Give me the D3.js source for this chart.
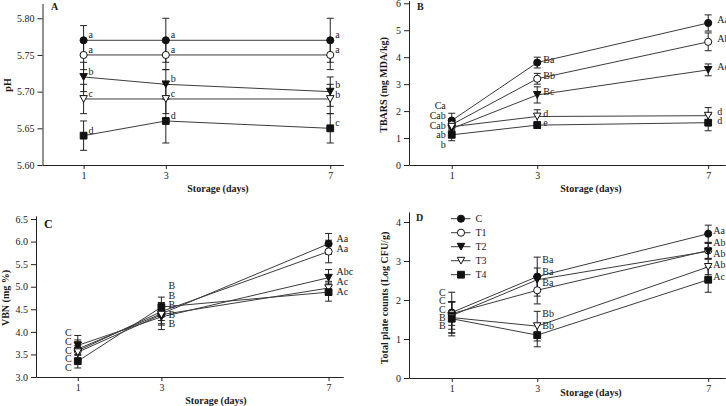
<!DOCTYPE html>
<html>
<head>
<meta charset="utf-8">
<script src="https://cdn.jsdelivr.net/npm/d3@7"></script>
<style>
  html, body { margin: 0; padding: 0; background: #fff; }
  svg { display: block; }
  text { font-family: "Liberation Serif", "Times New Roman", serif; fill: #1a1a1a; }
</style>
</head>
<body>
<svg id="chart" width="726" height="406"></svg>
<script>
// ---------- DATA ----------
const days = [1, 3, 7];
const seriesNames = ["C", "T1", "T2", "T3", "T4"];

// Panel A: pH
const phMean = [[5.77, 5.77, 5.77], [5.75, 5.75, 5.75], [5.72, 5.71, 5.70], [5.69, 5.69, 5.69], [5.64, 5.66, 5.65]];
const phSD = [[0.02, 0.03, 0.03], [0.02, 0.02, 0.02], [0.02, 0.02, 0.02], [0.02, 0.02, 0.02], [0.02, 0.03, 0.02]];
const phLetters = [["a", "a", "a"], ["a", "a", "a"], ["b", "b", "b"], ["c", "c", "b"], ["d", "d", "c"]];
const phTicks = [5.60, 5.65, 5.70, 5.75, 5.80];

// Panel B: TBARS
const tbarsMean = [[1.65, 3.80, 5.27], [1.50, 3.20, 4.57], [1.35, 2.60, 3.53], [1.42, 1.80, 1.83], [1.12, 1.48, 1.57]];
const tbarsSD = [[0.27, 0.20, 0.30], [0.20, 0.20, 0.33], [0.15, 0.30, 0.22], [0.15, 0.25, 0.30], [0.22, 0.12, 0.30]];
const tbarsLetters = [["Ca", "Ba", "Aa"], ["Cab", "Bb", "Ab"], ["Cab", "Bc", "Ac"], ["ab", "d", "d"], ["b", "e", "d"]];
const tbarsTicks = [0, 1, 2, 3, 4, 5, 6];

// Panel C: VBN
const vbnMean = [[3.62, 4.40, 5.95], [3.58, 4.45, 5.78], [3.70, 4.33, 5.20], [3.55, 4.38, 4.97], [3.35, 4.55, 4.88]];
const vbnSD = [[0.20, 0.25, 0.23], [0.20, 0.20, 0.25], [0.22, 0.28, 0.18], [0.15, 0.20, 0.15], [0.15, 0.22, 0.20]];
const vbnLetters = [["C", "B", "Aa"], ["C", "B", "Aa"], ["C", "B", "Abc"], ["C", "B", "Ac"], ["C", "B", "Ac"]];
const vbnTicks = [3.0, 3.5, 4.0, 4.5, 5.0, 5.5, 6.0, 6.5];

// Panel D: Total plate counts
const tpcMean = [[1.68, 2.60, 3.70], [1.65, 2.25, 3.27], [1.60, 2.52, 3.25], [1.55, 1.33, 2.85], [1.52, 1.10, 2.52]];
const tpcSD = [[0.52, 0.50, 0.22], [0.30, 0.35, 0.20], [0.35, 0.30, 0.20], [0.40, 0.38, 0.20], [0.44, 0.30, 0.32]];
const tpcLetters = [["C", "Ba", "Aa"], ["C", "Ba", "Ab"], ["C", "Ba", "Ab"], ["B", "Bb", "Ab"], ["B", "Bb", "Ac"]];
const tpcTicks = [0, 1, 2, 3, 4];

// ---------- LAYOUT ----------
const svg = d3.select("#chart");
const symbolFor = {
  C:  { type: d3.symbolCircle,   fill: "#111", size: 40 },
  T1: { type: d3.symbolCircle,   fill: "#fff", size: 40 },
  T2: { type: "tri",             fill: "#111", size: 7.5 },
  T3: { type: "tri",             fill: "#fff", size: 7.5 },
  T4: { type: d3.symbolSquare,   fill: "#111", size: 46 }
};
function drawMarker(g, name, cx, cy) {
  const s = symbolFor[name];
  if (s.type === "tri") {
    const w = s.size, h = s.size * 0.9;
    g.append("path")
      .attr("d", `M${cx - w / 2},${cy - h / 2}L${cx + w / 2},${cy - h / 2}L${cx},${cy + h / 2}Z`)
      .attr("fill", s.fill).attr("stroke", "#111").attr("stroke-width", 1);
  } else {
    g.append("path")
      .attr("d", d3.symbol().type(s.type).size(s.size)())
      .attr("transform", `translate(${cx},${cy})`)
      .attr("fill", s.fill).attr("stroke", "#111").attr("stroke-width", 1);
  }
}

// place labels along y with ordered minimum gap (pool-adjacent-violators)
function layoutLabels(desired, gap) {
  const n = desired.length;
  const z = desired.map((d, i) => d - i * gap);
  let blocks = [];
  z.forEach((v, i) => {
    blocks.push({ sum: v, n: 1, start: i });
    while (blocks.length > 1) {
      const b = blocks[blocks.length - 1], a = blocks[blocks.length - 2];
      if (a.sum / a.n > b.sum / b.n) {
        blocks.pop();
        a.sum += b.sum; a.n += b.n;
      } else break;
    }
  });
  const out = new Array(n);
  blocks.forEach(b => {
    const m = b.sum / b.n;
    for (let k = 0; k < b.n; k++) out[b.start + k] = m + (b.start + k) * gap;
  });
  return out;
}

const panels = [
  {
    id: "A", mean: phMean, sd: phSD, letters: phLetters, ticks: phTicks, fmt: ".2f",
    xDomain: [0, 7.32], xRange: [42.5, 343.4],
    yDomain: [5.60, 5.82], yRange: [165, 3.6],
    yTitle: "pH", yTitleX: 7, yTitleY: 85,
    xTitleX: 218, xTitleY: 188,
    letterX: 51, letterY: 10, letterSize: 10,
    lab: [
      { side: "right", dx: 5, dy: -5.5, gap: 10 },
      { side: "right", dx: 5, dy: -5.5, gap: 10 },
      { side: "right", dx: 5, dy: -5.5, gap: 10 }
    ]
  },
  {
    id: "B", mean: tbarsMean, sd: tbarsSD, letters: tbarsLetters, ticks: tbarsTicks, fmt: "d",
    xDomain: [0, 7.4], xRange: [409, 725.3],
    yDomain: [0, 6.1], yRange: [165, 0.6],
    yTitle: "TBARS (mg MDA/kg)", yTitleX: 383, yTitleY: 85,
    xTitleX: 591, xTitleY: 188,
    letterX: 417, letterY: 10, letterSize: 10,
    lab: [
      { side: "left", dx: -6, dy: -2, gap: 9.8 },
      { side: "right", dx: 6, dy: -3, gap: 9 },
      { side: "right", dx: 9, dy: -3, gap: 9 }
    ]
  },
  {
    id: "C", mean: vbnMean, sd: vbnSD, letters: vbnLetters, ticks: vbnTicks, fmt: ".1f",
    xDomain: [0, 7.35], xRange: [36, 343.2],
    yDomain: [3.0, 6.57], yRange: [377, 215.85],
    yTitle: "VBN (mg %)", yTitleX: 5, yTitleY: 298,
    xTitleX: 216, xTitleY: 400,
    letterX: 44, letterY: 228, letterSize: 12,
    lab: [
      { side: "left", dx: -6, dy: -1.7, gap: 8.7 },
      { side: "right", dx: 7, dy: -8, gap: 9.5 },
      { side: "right", dx: 8, dy: -4, gap: 10 }
    ]
  },
  {
    id: "D", mean: tpcMean, sd: tpcSD, letters: tpcLetters, ticks: tpcTicks, fmt: "d",
    xDomain: [0, 7.4], xRange: [409, 725.3],
    yDomain: [0, 4.26], yRange: [378, 211.9],
    yTitle: "Total plate counts (Log CFU/g)", yTitleX: 384, yTitleY: 298,
    xTitleX: 591, xTitleY: 392,
    letterX: 416, letterY: 221, letterSize: 10,
    lab: [
      { side: "left", dx: -6, dy: -6.6, gap: 8.2 },
      { side: "right", dx: 5, dy: -11, gap: 11.5 },
      { side: "right", dx: 5, dy: -3, gap: 11 }
    ],
    legend: true
  }
];

panels.forEach(p => {
  const g = svg.append("g");
  const x = d3.scaleLinear().domain(p.xDomain).range(p.xRange);
  const y = d3.scaleLinear().domain(p.yDomain).range(p.yRange);

  // axes
  const gx = g.append("g")
    .attr("transform", `translate(0,${p.yRange[0]})`)
    .call(d3.axisBottom(x).tickValues(days).tickSize(4).tickSizeOuter(0).tickPadding(3).tickFormat(d3.format("d")));
  const gy = g.append("g")
    .attr("transform", `translate(${p.xRange[0]},0)`)
    .call(d3.axisLeft(y).tickValues(p.ticks).tickSize(5).tickSizeOuter(0).tickPadding(3).tickFormat(d3.format(p.fmt)));
  [gx, gy].forEach(a => {
    a.selectAll("path.domain").attr("stroke", "#222").attr("stroke-width", 1);
    a.selectAll(".tick line").attr("stroke", "#222");
    a.selectAll(".tick text").attr("font-family", "Liberation Serif, serif").attr("font-size", 10).attr("fill", "#222");
  });

  // titles
  g.append("text").attr("x", p.xTitleX).attr("y", p.xTitleY).attr("dy", "0.35em")
    .attr("text-anchor", "middle").attr("font-size", 10).attr("font-weight", "bold").text("Storage (days)");
  g.append("text").attr("transform", `translate(${p.yTitleX},${p.yTitleY}) rotate(-90)`)
    .attr("dy", "0.35em").attr("text-anchor", "middle").attr("font-size", 10).attr("font-weight", "bold").text(p.yTitle);
  g.append("text").attr("x", p.letterX).attr("y", p.letterY)
    .attr("font-size", p.letterSize).attr("font-weight", "bold").text(p.id);

  // lines
  const line = d3.line().x((d, i) => x(days[i])).y(d => y(d));
  p.mean.forEach(vals => {
    g.append("path").attr("d", line(vals)).attr("fill", "none").attr("stroke", "#3c3c3c").attr("stroke-width", 1);
  });

  // error bars
  p.mean.forEach((vals, s) => {
    vals.forEach((v, i) => {
      const cx = x(days[i]), sd = p.sd[s][i];
      const y1 = y(v - sd), y2 = y(v + sd);
      g.append("line").attr("x1", cx).attr("x2", cx).attr("y1", y1).attr("y2", y2).attr("stroke", "#222");
      [y1, y2].forEach(yy => g.append("line").attr("x1", cx - 3.5).attr("x2", cx + 3.5).attr("y1", yy).attr("y2", yy).attr("stroke", "#222"));
    });
  });

  // markers
  p.mean.forEach((vals, s) => {
    vals.forEach((v, i) => drawMarker(g, seriesNames[s], x(days[i]), y(v)));
  });

  // significance letters
  days.forEach((d, i) => {
    const L = p.lab[i];
    const desired = p.mean.map(vals => y(vals[i]) + L.dy);
    const ys = layoutLabels(desired, L.gap);
    p.letters.forEach((row, s) => {
      g.append("text")
        .attr("x", x(d) + L.dx).attr("y", ys[s]).attr("dy", "0.35em")
        .attr("text-anchor", L.side === "left" ? "end" : "start")
        .attr("font-size", 10).attr("fill", "#222")
        .text(row[i]);
    });
  });

  // legend
  if (p.legend) {
    const lg = g.append("g");
    seriesNames.forEach((name, k) => {
      const ly = 218.7 + k * 14;
      lg.append("line").attr("x1", 451).attr("x2", 470.5).attr("y1", ly).attr("y2", ly).attr("stroke", "#3c3c3c");
      drawMarker(lg, name, 461, ly);
      lg.append("text").attr("x", 475.5).attr("y", ly).attr("dy", "0.35em").attr("font-size", 10).text(name);
    });
  }
});
</script>
</body>
</html>
